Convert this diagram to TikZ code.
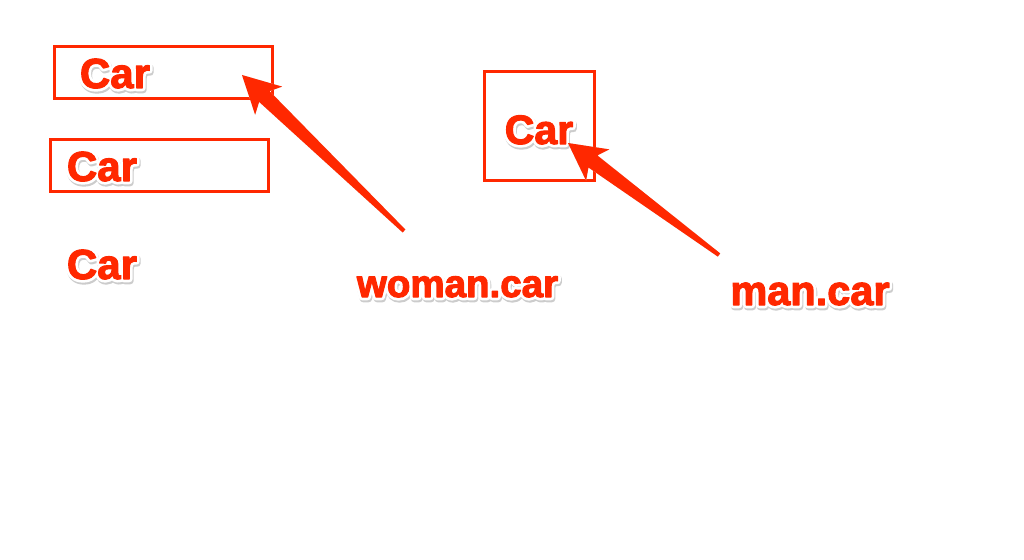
\documentclass[tikz,border=0pt]{standalone}
\usepackage{fontspec}
\setmainfont{Liberation Sans}
\usetikzlibrary{calc}
\definecolor{skred}{RGB}{255,40,0}
\definecolor{skshadow}{gray}{0.80}
% red text with a white outline and a light shadow
\newcommand\sktext[1]{%
  \makebox[0pt][l]{\hspace{1pt}\raisebox{-2pt}{\color{skshadow}\special{pdf:code 2 Tr 6.5 w 1 j}#1\special{pdf:code 0 Tr}}}%
  \makebox[0pt][l]{\color{white}\special{pdf:code 1 Tr 6.5 w 1 j}#1\special{pdf:code 0 Tr}}%
  {\color{skred}\special{pdf:code 2 Tr 1.1 w 1 j}#1\special{pdf:code 0 Tr}}}
\newcommand\skarrow[3]{% #1 style, #2 tail, #3 tip
  \fill[#1] let \p1=($(#2)-(#3)$), \n1={atan2(\y1,\x1)} in
    (#3) -- ($(#3)+(\n1:37pt)+(\n1+90:19.5pt)$) -- ($(#3)+(\n1:31pt)+(\n1+90:7.5pt)$)
    -- ($(#2)+(\n1+90:2pt)$) -- ($(#2)+(\n1-90:2pt)$)
    -- ($(#3)+(\n1:31pt)+(\n1-90:7.5pt)$) -- ($(#3)+(\n1:37pt)+(\n1-90:19.5pt)$) -- cycle;}
\tikzset{
  skbox/.style={draw=skred, line width=3pt, inner sep=0pt, rectangle},
  lbl/.style={inner sep=0pt, anchor=base, font=\bfseries\fontsize{42}{42}\selectfont},
  lblcar/.style={lbl, font=\bfseries\fontsize{41}{41}\selectfont},
  lblwoman/.style={lbl, font=\bfseries\fontsize{38.5}{38.5}\selectfont},
  lblman/.style={lbl, font=\bfseries\fontsize{41.5}{41.5}\selectfont},
  arrowfill/.style={fill=skred},
  arrowshadow/.style={fill=black!14, xshift=1pt, yshift=-1.5pt}
}
\begin{document}
\begin{tikzpicture}[x=1pt,y=-1pt]
\useasboundingbox (0,0) rectangle (1024,559);
\fill[white] (0,0) rectangle (1024,559);
% boxes
\node[skbox, minimum width=218pt, minimum height=52pt] (box1) at (163.5,72.5) {};
\node[skbox, minimum width=218pt, minimum height=51.5pt] (box2) at (159.5,165.25) {};
\node[skbox, minimum width=110pt, minimum height=109pt] (box3) at (539.5,126) {};
% texts
\node[lbl] (car1) at (115,88) {\sktext{Car}};
\node[lbl] (car2) at (102,181) {\sktext{Car}};
\node[lbl] (car3) at (102,279) {\sktext{Car}};
\node[lblcar] (car4) at (539,144) {\sktext{Car}};
\node[lblwoman] (woman) at (457.5,297) {\sktext{woman.car}};
\node[lblman] (man) at (810,305) {\sktext{man.car}};
% arrows
\coordinate (a1tail) at (404,231);
\coordinate (a1tip) at (242,75);
\coordinate (a2tail) at (719,255);
\coordinate (a2tip) at (568,143);
\skarrow{arrowshadow}{a1tail}{a1tip}
\skarrow{arrowfill}{a1tail}{a1tip}
\skarrow{arrowshadow}{a2tail}{a2tip}
\skarrow{arrowfill}{a2tail}{a2tip}
\end{tikzpicture}
\end{document}
